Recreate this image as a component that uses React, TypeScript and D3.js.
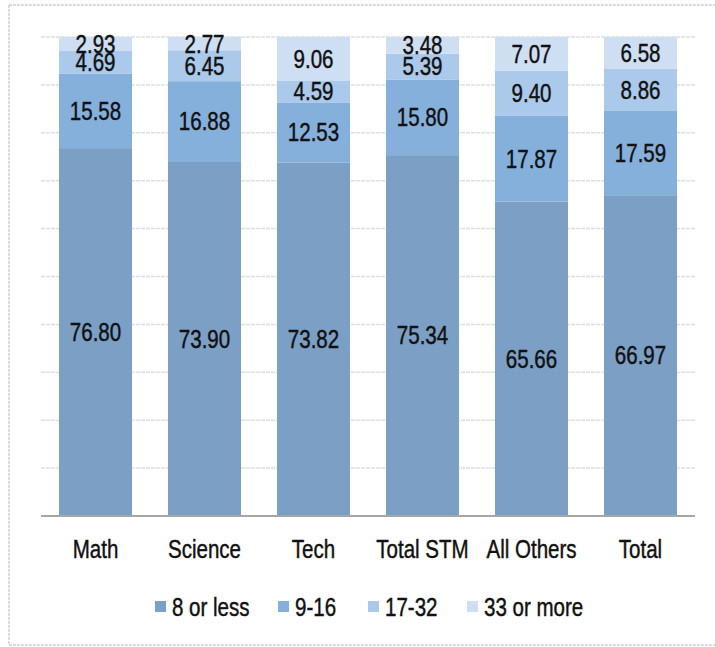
import React from "react";
import * as d3 from "d3";

// Share of courses by class size, per subject group (percent)
const categories = ["Math", "Science", "Tech", "Total STM", "All Others", "Total"];
const seriesNames = ["8 or less", "9-16", "17-32", "33 or more"];
const eightOrLess = [76.8, 73.9, 73.82, 75.34, 65.66, 66.97];
const nineTo16 = [15.58, 16.88, 12.53, 15.8, 17.87, 17.59];
const seventeenTo32 = [4.69, 6.45, 4.59, 5.39, 9.4, 8.86];
const thirtyThreePlus = [2.93, 2.77, 9.06, 3.48, 7.07, 6.58];
const yTicks = [0, 10, 20, 30, 40, 50, 60, 70, 80, 90, 100];

const colors = ["#7b9fc5", "#86b0dc", "#aac9eb", "#cfdff3"];
const FONT = "'Liberation Sans', Arial, sans-serif";
const NARROW = 0.79; // horizontal squeeze for a condensed look
const FS = 26;

function NarrowText({
  x,
  y,
  anchor = "middle",
  size = FS,
  children,
}: {
  x: number;
  y: number;
  anchor?: "start" | "middle" | "end";
  size?: number;
  children: React.ReactNode;
}) {
  return (
    <text
      transform={`translate(${x},${y}) scale(${NARROW},1)`}
      textAnchor={anchor}
      dominantBaseline="central"
      fontSize={size}
      fill="#111"
      stroke="#111"
      strokeWidth={0.45}
    >
      {children}
    </text>
  );
}

export default function App() {
  const W = 715;
  const H = 647;
  const x = d3
    .scaleBand<string>()
    .domain(categories)
    .range([41, 695])
    .paddingInner(0.33)
    .paddingOuter(0.165);
  const y = d3.scaleLinear().domain([0, 100]).range([516, 37]);

  const rows = categories.map((c, i) => ({
    cat: c,
    [seriesNames[0]]: eightOrLess[i],
    [seriesNames[1]]: nineTo16[i],
    [seriesNames[2]]: seventeenTo32[i],
    [seriesNames[3]]: thirtyThreePlus[i],
  }));
  const stacked = d3.stack<any>().keys(seriesNames)(rows);

  const legendX = [155, 278, 368, 467];
  const cx = (c: string) => (x(c) as number) + x.bandwidth() / 2;

  return (
    <svg
      width={W}
      height={H}
      style={{ position: "absolute", left: 0, top: 0, background: "#fff" }}
      fontFamily={FONT}
    >
      {/* outer frame */}
      <g stroke="#d9dae6" strokeWidth={2} strokeDasharray="3 1">
        <line x1={9} y1={5} x2={715} y2={5} />
        <line x1={9} y1={5} x2={9} y2={645} />
        <line x1={9} y1={645} x2={715} y2={645} />
      </g>

      {/* gridlines */}
      <g stroke="#dedede" strokeWidth={1.5} strokeDasharray="4 1">
        {yTicks.slice(1).map((t) => (
          <line key={t} x1={41} x2={695} y1={y(t)} y2={y(t)} />
        ))}
      </g>

      {/* stacked bars */}
      {stacked.map((layer, li) => (
        <g key={layer.key} fill={colors[li]}>
          {layer.map((d, i) => (
            <rect
              key={i}
              x={x(categories[i])}
              width={x.bandwidth()}
              y={y(d[1])}
              height={y(d[0]) - y(d[1])}
            />
          ))}
        </g>
      ))}

      {/* baseline */}
      <line x1={41} x2={695} y1={y(0)} y2={y(0)} stroke="#a6a6a6" strokeWidth={2} />

      {/* value labels */}
      {stacked.map((layer) =>
        layer.map((d, i) => (
          <NarrowText key={layer.key + i} x={cx(categories[i])} y={y((d[0] + d[1]) / 2)}>
            {(d[1] - d[0]).toFixed(2)}
          </NarrowText>
        ))
      )}

      {/* category labels */}
      {categories.map((c) => (
        <NarrowText key={c} x={cx(c)} y={549}>
          {c}
        </NarrowText>
      ))}

      {/* legend */}
      {seriesNames.map((s, i) => (
        <g key={s}>
          <rect x={legendX[i]} y={601} width={11} height={11} fill={colors[i]} />
          <NarrowText x={legendX[i] + 17} y={607} anchor="start">
            {s}
          </NarrowText>
        </g>
      ))}
    </svg>
  );
}
